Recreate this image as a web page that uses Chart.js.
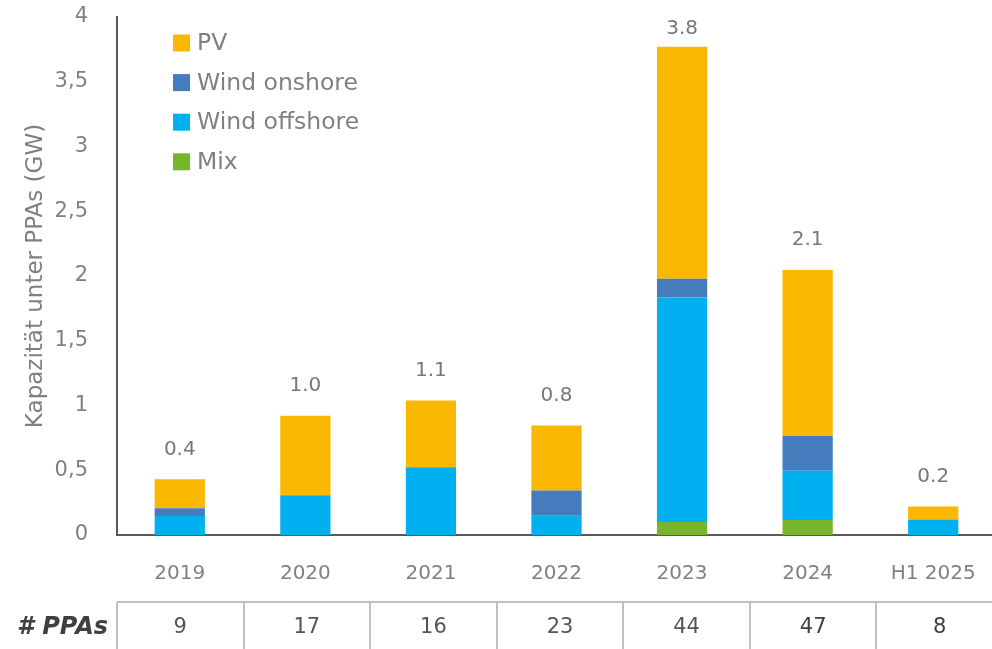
<!DOCTYPE html>
<html>
<head>
<meta charset="utf-8">
<script src="https://cdn.jsdelivr.net/npm/chart.js@4.4.1/dist/chart.umd.min.js"></script>
<style>
  html, body { margin: 0; padding: 0; background: #fff; overflow: hidden; }
  #wrap { position: relative; width: 996px; height: 649px; }
</style>
</head>
<body>
<div id="wrap"><canvas id="c"></canvas></div>
<script>
const categories = ["2019", "2020", "2021", "2022", "2023", "2024", "H1 2025"];
const mixValues = [0, 0, 0, 0, 0.10, 0.116, 0];
const offshoreValues = [0.147, 0.306, 0.523, 0.149, 1.734, 0.38, 0.12];
const onshoreValues = [0.059, 0, 0, 0.194, 0.144, 0.27, 0];
const pvValues = [0.224, 0.614, 0.516, 0.503, 1.792, 1.28, 0.101];
const totalLabels = ["0.4", "1.0", "1.1", "0.8", "3.8", "2.1", "0.2"];
const ppaCounts = ["9", "17", "16", "23", "44", "47", "8"];
const yTickValues = [0, 0.5, 1, 1.5, 2, 2.5, 3, 3.5, 4];

const FONT = "'DejaVu Sans', sans-serif";
const GREY = "#808080";

const datasets = [
  { label: "Mix", data: mixValues, backgroundColor: "#77B52B" },
  { label: "Wind offshore", data: offshoreValues, backgroundColor: "#00B0F0" },
  { label: "Wind onshore", data: onshoreValues, backgroundColor: "#447CBE" },
  { label: "PV", data: pvValues, backgroundColor: "#FAB800" }
];

const overlay = {
  id: "overlay",
  afterDraw(chart) {
    const ctx = chart.ctx;
    const xs = chart.scales.x, ys = chart.scales.y;
    const ca = chart.chartArea;
    const n = categories.length;
    const cw = (xs.right - xs.left) / n;
    const tw = cw * 1.008; // table column width
    ctx.save();
    // total labels
    ctx.font = "20px " + FONT;
    ctx.fillStyle = "#777777";
    ctx.textAlign = "center";
    ctx.textBaseline = "middle";
    categories.forEach((c, i) => {
      let total = 0;
      datasets.forEach(d => total += d.data[i]);
      const x = xs.getPixelForValue(i);
      let y = ys.getPixelForValue(total) - 30;
      if (y < 29) y = 29;
      ctx.fillText(totalLabels[i], x, y);
    });
    // legend
    const legendOrder = [3, 2, 1, 0];
    ctx.textAlign = "left";
    ctx.font = "23.5px " + FONT;
    legendOrder.forEach((di, k) => {
      const cy = 43 + k * 39.6;
      ctx.fillStyle = datasets[di].backgroundColor;
      ctx.fillRect(173, cy - 8.5, 17, 17);
      ctx.fillStyle = GREY;
      ctx.fillText(datasets[di].label, 197, cy + 1);
    });
    // table
    const tTop = ca.bottom + 67;
    ctx.strokeStyle = "#c0c0c0";
    ctx.lineWidth = 2;
    ctx.beginPath();
    ctx.moveTo(xs.left, tTop);
    ctx.lineTo(chart.width, tTop);
    for (let i = 0; i <= n; i++) {
      const bx = Math.round(xs.left + i * tw);
      ctx.moveTo(bx, tTop);
      ctx.lineTo(bx, chart.height);
    }
    ctx.stroke();
    ctx.textAlign = "center";
    ppaCounts.forEach((v, i) => {
      ctx.fillStyle = i >= 5 ? "#404040" : "#555555";
      ctx.font = "21px " + FONT;
      ctx.fillText(v, xs.left + (i + 0.5) * tw, tTop + 26);
    });
    ctx.textAlign = "right";
    ctx.fillStyle = "#404040";
    ctx.font = "italic bold 24px " + FONT;
    ctx.fillText("# PPAs", 108, tTop + 26);
    ctx.restore();
  }
};

new Chart(document.getElementById("c"), {
  type: "bar",
  data: { labels: categories, datasets: datasets },
  options: {
    responsive: true,
    maintainAspectRatio: false,
    animation: false,
    layout: { padding: { top: 17, right: 0, left: 0, bottom: 0 } },
    datasets: { bar: { barPercentage: 0.4, categoryPercentage: 1.0, borderWidth: 0 } },
    plugins: { legend: { display: false }, tooltip: { enabled: false } },
    scales: {
      x: {
        stacked: true,
        grid: { display: false, drawTicks: false },
        border: { display: true, color: "#595959", width: 2 },
        ticks: { color: GREY, font: { family: FONT, size: 20 }, padding: 27 },
        afterFit(s) { s.height = 114; s.paddingLeft = 0; s.paddingRight = 0; }
      },
      y: {
        stacked: true,
        min: 0, max: 4,
        afterBuildTicks(s) { s.ticks = yTickValues.map(v => ({ value: v })); },
        grid: { display: false, drawTicks: false },
        border: { display: true, color: "#595959", width: 2 },
        ticks: {
          color: GREY, font: { family: FONT, size: 21 }, padding: 29,
          callback: v => String(v).replace(".", ",")
        },
        title: {
          display: true, text: "Kapazität unter PPAs (GW)", color: GREY,
          font: { family: FONT, size: 23 }, padding: { top: 22, bottom: 0 }
        },
        afterFit(s) { s.width = 117; s.paddingTop = 0; s.paddingBottom = 0; }
      }
    }
  },
  plugins: [overlay]
});
</script>
</body>
</html>
